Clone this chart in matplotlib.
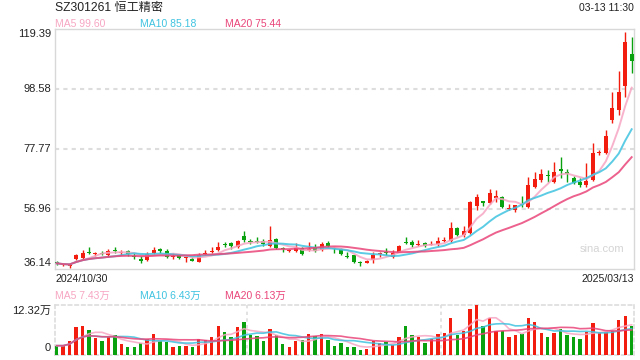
import matplotlib
matplotlib.use("Agg")
import matplotlib.pyplot as plt
import numpy as np
import pandas as pd

# Candlestick + volume chart, sina style
plt.rcParams['font.family'] = ['Liberation Sans', 'Noto Sans CJK SC', 'DejaVu Sans']

# ---- data ----
title = "SZ301261 恒工精密"
stamp = "03-13 11:30"
first_date = "2024/10/30"
last_date = "2025/03/13"
price_ticks = [36.14, 56.96, 77.77, 98.58, 119.39]
vol_max = 12.32  # 万
ma_windows = [5, 10, 20]
ma_labels = ["MA5 99.60", "MA10 85.18", "MA20 75.44"]
vol_ma_labels = ["MA5 7.43万", "MA10 6.43万", "MA20 6.13万"]

opens = [38.4, 37.4, 37.3, 39.6, 40.1, 41.9, 41.4, 41.7, 41.0, 42.8,
         41.8, 42.4, 40.6, 39.6, 39.3, 41.6, 43.1, 42.4, 40.4, 40.9,
         40.0, 39.7, 38.7, 41.5, 41.9, 42.7, 44.8, 45.0, 43.7, 47.7,
         45.7, 45.7, 45.7, 44.2, 46.5, 43.2, 42.3, 42.4, 43.3, 42.9,
         43.7, 42.9, 45.3, 43.3, 43.1, 40.6, 41.0, 38.5, 38.3, 39.3,
         41.4, 41.8, 40.4, 42.1, 45.4, 45.5, 44.3, 45.0, 44.6, 44.7,
         45.8, 45.9, 50.2, 47.9, 48.5, 58.0, 59.7, 58.9, 60.9, 61.0,
         57.0, 56.6, 58.5, 57.5, 64.7, 67.0, 68.5, 66.4, 70.7, 69.8,
         67.6, 66.4, 65.3, 67.0, 76.3, 76.5, 87.8, 91.3, 99.6, 110.7]
highs = [38.9, 37.9, 38.1, 41.5, 42.7, 43.9, 42.2, 42.4, 43.1, 43.9,
         42.7, 42.7, 41.6, 40.8, 41.9, 43.7, 43.5, 43.0, 41.6, 41.2,
         40.3, 40.4, 41.6, 42.7, 43.9, 45.6, 45.4, 45.4, 46.2, 49.3,
         46.4, 47.1, 46.4, 51.0, 47.0, 43.9, 43.1, 45.3, 43.9, 45.6,
         44.7, 45.6, 45.8, 43.9, 43.3, 42.2, 41.0, 38.9, 39.2, 42.2,
         42.2, 43.3, 42.7, 44.5, 47.1, 46.2, 46.2, 45.6, 46.0, 47.4,
         47.1, 52.6, 50.6, 51.1, 59.7, 62.2, 59.7, 63.8, 63.5, 61.5,
         58.7, 58.3, 61.5, 68.2, 69.9, 70.7, 70.5, 73.4, 74.9, 70.7,
         68.4, 67.6, 73.0, 79.7, 77.4, 84.3, 97.6, 104.8, 118.2, 116.7]
lows = [37.4, 37.2, 36.4, 39.2, 39.3, 41.3, 40.6, 41.0, 40.4, 41.8,
        41.0, 40.8, 39.7, 38.3, 38.9, 41.3, 41.6, 40.1, 39.5, 39.6,
        38.4, 38.9, 38.5, 41.0, 41.6, 42.5, 43.7, 43.1, 43.3, 45.6,
        44.7, 45.0, 44.2, 43.9, 43.1, 42.2, 41.9, 42.1, 41.0, 42.5,
        42.1, 42.5, 43.9, 41.8, 41.0, 40.0, 38.3, 37.3, 38.1, 38.3,
        40.4, 41.0, 39.8, 41.9, 44.9, 43.9, 44.1, 43.9, 44.3, 44.1,
        45.6, 45.6, 47.6, 47.3, 48.3, 56.6, 58.1, 58.6, 59.5, 57.2,
        56.6, 56.0, 57.5, 57.2, 64.4, 66.4, 66.4, 66.0, 67.6, 66.4,
        65.5, 64.5, 64.5, 66.8, 75.7, 76.0, 86.7, 89.5, 95.9, 104.0]
closes = [38.1, 37.6, 37.5, 41.0, 41.8, 41.6, 41.6, 41.5, 42.4, 42.4,
          42.0, 41.2, 40.3, 38.9, 41.2, 42.7, 42.4, 40.4, 40.6, 40.1,
          40.2, 39.0, 41.0, 41.7, 42.2, 43.7, 44.6, 44.2, 45.8, 46.2,
          45.5, 45.5, 44.7, 46.2, 43.5, 43.0, 42.5, 43.5, 41.2, 43.1,
          42.4, 44.8, 44.2, 43.0, 41.2, 40.3, 38.7, 38.3, 39.0, 41.0,
          41.6, 41.6, 41.6, 44.1, 45.1, 44.3, 44.5, 44.1, 44.8, 45.9,
          46.0, 50.2, 47.9, 49.3, 59.4, 61.1, 59.1, 62.6, 61.3, 57.8,
          57.2, 58.3, 58.2, 65.3, 67.2, 69.1, 68.3, 69.9, 70.1, 69.0,
          65.8, 65.3, 66.8, 76.5, 76.6, 82.3, 91.9, 97.6, 115.0, 108.4]
# volume in 万
volumes = [2.3, 2.3, 3.45, 7.0, 7.2, 6.2, 4.1, 3.45, 4.35, 4.85,
           2.7, 2.05, 2.05, 2.9, 3.85, 5.2, 3.5, 3.2, 2.05, 2.3,
           2.3, 2.05, 3.9, 3.6, 4.5, 7.2, 5.7, 4.5, 6.9, 8.2,
           4.9, 4.7, 3.45, 6.45, 4.9, 2.7, 2.05, 3.45, 3.7, 5.2,
           4.7, 5.2, 3.7, 2.3, 3.0, 2.05, 2.05, 1.2, 1.5, 3.5,
           3.0, 3.3, 2.5, 4.35, 7.2, 4.9, 4.35, 3.0, 3.9, 5.2,
           5.5, 9.2, 4.9, 6.0, 11.3, 12.32, 7.2, 9.0, 6.0, 5.8,
           4.35, 4.9, 5.2, 9.2, 8.2, 5.5, 4.5, 5.5, 6.45, 4.9,
           4.5, 3.9, 5.75, 7.9, 5.6, 5.6, 6.0, 8.7, 9.7, 7.2]

# ---- styles ----
RED = '#f21c0f'
GREEN = '#0aa10f'
MA_COLORS = ['#f7a6c3', '#3fc3e0', '#e94579']
FRAME = '#d8d8d8'
GRID = '#dddddd'
W, H = 640, 360


def fx(px):
    return px / W


def fy(py):
    return 1 - py / H


fig = plt.figure(figsize=(6.4, 3.6), dpi=100)
ax = fig.add_axes([fx(55), fy(269), 579 / W, 240 / H])
axv = fig.add_axes([fx(55), fy(355), 579 / W, 50 / H])

df = pd.DataFrame({'open': opens, 'high': highs, 'low': lows,
                   'close': closes, 'vol': volumes})
x = np.arange(len(df))
colors = np.where(df['close'] >= df['open'], RED, GREEN)

# 1. candles
ax.vlines(x, df['low'], df['high'], colors=colors, lw=1, zorder=2)
body_lo = np.minimum(df['open'], df['close'])
body_h = np.maximum((df['close'] - df['open']).abs(), 0.35)
ax.bar(x, body_h, 0.62, bottom=body_lo, color=colors, lw=0, zorder=3)

# 2. moving averages
for n, col in zip(ma_windows, MA_COLORS):
    ax.plot(x, df['close'].rolling(n, min_periods=1).mean(),
            color=col, lw=1.4, alpha=0.85, zorder=4)
    axv.plot(x, df['vol'].rolling(n, min_periods=1).mean(),
             color=col, lw=1.2, alpha=0.85, zorder=4)

# 3. volume bars
axv.bar(x, df['vol'], 0.52, color=colors, lw=0, zorder=3)

# 4. axes cosmetics
ax.set_xlim(-0.26, len(df) - 1 + 0.36)
axv.set_xlim(-0.26, len(df) - 1 + 0.36)
ax.set_ylim(price_ticks[0], price_ticks[-1])
axv.set_ylim(0, vol_max)
for a in (ax, axv):
    a.set_xticks([])
    a.set_yticks([])
for s in ax.spines.values():
    s.set_color(FRAME)
    s.set_linewidth(1)
for s in axv.spines.values():
    s.set_color(GRID)
    s.set_linewidth(1.2)
    s.set_linestyle((0, (2, 2)))

for t in price_ticks[1:-1]:
    ax.axhline(t, color=GRID, lw=1.5, ls=(0, (2, 2)), zorder=1)
for f in (1 / 3, 2 / 3):
    axv.axvline(len(df) * f - 0.5, color=GRID, lw=1.2, ls=(0, (2, 2)), zorder=1)

# 5. texts
fig.text(fx(55), fy(8), title, fontsize=8.7, color='#222222', va='center')
fig.text(fx(634), fy(8), stamp, fontsize=7.5, color='#222222', va='center', ha='right')

for lbl, col, px in zip(ma_labels, MA_COLORS, [55, 140, 225]):
    fig.text(fx(px), fy(24), lbl, fontsize=7.5, color=col, va='center')
for lbl, col, px in zip(vol_ma_labels, MA_COLORS, [55, 140, 225]):
    fig.text(fx(px), fy(296), lbl, fontsize=7.5, color=col, va='center')

tick_y = {119.39: 34, 98.58: 89, 77.77: 149, 56.96: 209, 36.14: 263}
for t in price_ticks:
    fig.text(fx(51), fy(tick_y[t]), f"{t:.2f}", fontsize=8, color='#222222',
             va='center', ha='right')
fig.text(fx(51), fy(311), f"{vol_max:.2f}万", fontsize=8, color='#222222',
         va='center', ha='right')
fig.text(fx(51), fy(348), "0", fontsize=8, color='#222222', va='center', ha='right')

fig.text(fx(55), fy(279), first_date, fontsize=7.6, color='#222222', va='center')
fig.text(fx(634), fy(279), last_date, fontsize=7.6, color='#222222',
         va='center', ha='right')
fig.text(fx(624), fy(249), "sina.com", fontsize=8, color='#d4d4d4',
         va='center', ha='right')

fig.savefig("out.png", dpi=100)
